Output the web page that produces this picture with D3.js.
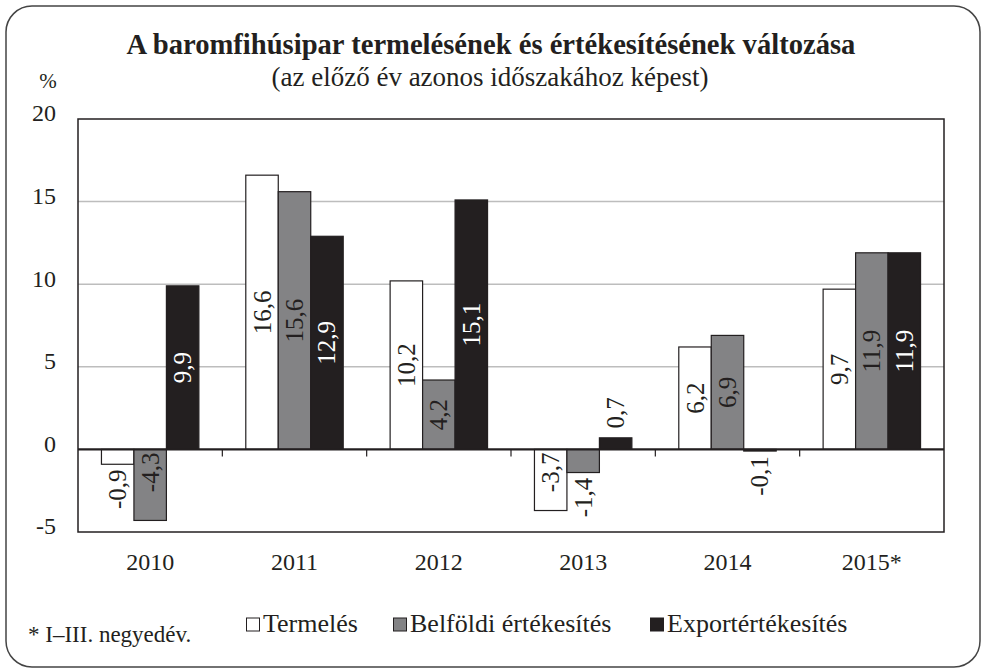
<!DOCTYPE html>
<html>
<head>
<meta charset="utf-8">
<script src="https://cdn.jsdelivr.net/npm/d3@7"></script>
<style>
  body { margin: 0; background: #fff; }
  svg text { font-family: "Liberation Serif", "Times New Roman", serif; fill: #231f20; }
</style>
</head>
<body>
<script>
var years = ['2010', '2011', '2012', '2013', '2014', '2015*']
var seriesNames = ['Termelés', 'Belföldi értékesítés', 'Exportértékesítés']
var termeles = [-0.9, 16.6, 10.2, -3.7, 6.2, 9.7]
var belfoldi = [-4.3, 15.6, 4.2, -1.4, 6.9, 11.9]
var export_ = [9.9, 12.9, 15.1, 0.7, -0.1, 11.9]
var yTicks = [-5, 0, 5, 10, 15, 20]

var colors = {
  fill: ['#ffffff', '#838385', '#231f20'],
  label: ['#231f20', '#231f20', '#ffffff']
}

var W = 986, H = 672
var margin = { left: 78, right: 42, top: 119, bottom: 140 }
var fontSize = 24

var svg = d3.select('body').append('svg')
  .attr('width', W).attr('height', H)
  .attr('font-family', '"Liberation Serif", serif')

// outer frame
svg.append('rect')
  .attr('x', 6).attr('y', 6)
  .attr('width', W - 12).attr('height', H - 11)
  .attr('rx', 26).attr('ry', 26)
  .attr('fill', 'none').attr('stroke', '#444').attr('stroke-width', 1.5)

var x0 = d3.scaleBand().domain(years)
  .range([margin.left, W - margin.right])
  .paddingInner(0.325).paddingOuter(0.1625)
var x1 = d3.scaleBand().domain(d3.range(3)).range([0, x0.bandwidth()])
var y = d3.scaleLinear().domain([-5, 20]).range([H - margin.bottom, margin.top])

var plotL = margin.left, plotR = W - margin.right

// grid
svg.append('g').selectAll('line')
  .data([5, 10, 15]).enter().append('line')
  .attr('x1', plotL).attr('x2', plotR)
  .attr('y1', function (d) { return y(d) }).attr('y2', function (d) { return y(d) })
  .attr('stroke', '#bdbdbd').attr('stroke-width', 1.5)

// y axis labels
svg.append('g').selectAll('text')
  .data(yTicks).enter().append('text')
  .attr('x', 56).attr('y', function (d) { return y(d) })
  .attr('dy', '0.1em')
  .attr('text-anchor', 'end')
  .attr('font-size', fontSize)
  .text(function (d) { return d })

// bars
var rows = years.map(function (yr, i) {
  return { year: yr, values: [termeles[i], belfoldi[i], export_[i]] }
})

var groups = svg.append('g').selectAll('g')
  .data(rows).enter().append('g')
  .attr('transform', function (d) { return 'translate(' + x0(d.year) + ',0)' })

groups.selectAll('rect')
  .data(function (d) { return d.values }).enter().append('rect')
  .attr('x', function (d, i) { return x1(i) })
  .attr('width', x1.bandwidth())
  .attr('y', function (d) { return y(Math.max(0, d)) })
  .attr('height', function (d) { return Math.abs(y(d) - y(0)) })
  .attr('fill', function (d, i) { return colors.fill[i] })
  .attr('stroke', '#231f20').attr('stroke-width', 1.2)

// value labels, rotated
var labelLen = 42
function fmt (v) { return String(v).replace('.', ',') }

groups.selectAll('text')
  .data(function (d) { return d.values }).enter().append('text')
  .attr('font-size', 25)
  .attr('dominant-baseline', 'central')
  .attr('transform', function (d, i) {
    var cx = x1(i) + x1.bandwidth() / 2
    var len = Math.abs(y(d) - y(0))
    var cy
    if (len > labelLen + 6) {
      // fits inside: centred for positive, at the base for negative
      cy = d > 0 ? (y(d) + y(0)) / 2 : y(0) + 2 + labelLen / 2
    } else {
      cy = d > 0 ? y(d) - 4 - labelLen / 2 : y(d) + 4 + labelLen / 2
    }
    return 'translate(' + cx + ',' + cy + ') rotate(-90)'
  })
  .attr('text-anchor', 'middle')
  .style('fill', function (d, i) {
    var len = Math.abs(y(d) - y(0))
    return len > labelLen + 6 ? colors.label[i] : '#231f20'
  })
  .text(fmt)

// plot frame
svg.append('rect')
  .attr('x', plotL).attr('y', y(20))
  .attr('width', plotR - plotL).attr('height', y(-5) - y(20))
  .attr('fill', 'none').attr('stroke', '#231f20').attr('stroke-width', 1.5)

// zero line and category ticks
svg.append('line')
  .attr('x1', plotL).attr('x2', plotR)
  .attr('y1', y(0)).attr('y2', y(0))
  .attr('stroke', '#231f20').attr('stroke-width', 2.2)

var step = x0.step()
svg.append('g').selectAll('line')
  .data(d3.range(1, years.length)).enter().append('line')
  .attr('x1', function (d) { return plotL + d * step })
  .attr('x2', function (d) { return plotL + d * step })
  .attr('y1', y(0)).attr('y2', y(0) + 7)
  .attr('stroke', '#231f20').attr('stroke-width', 1.2)

// x labels
svg.append('g').selectAll('text')
  .data(years).enter().append('text')
  .attr('x', function (d) { return x0(d) + x0.bandwidth() / 2 })
  .attr('y', 570)
  .attr('text-anchor', 'middle')
  .attr('font-size', fontSize)
  .text(function (d) { return d })

// titles
svg.append('text')
  .attr('x', 491).attr('y', 54)
  .attr('text-anchor', 'middle')
  .attr('font-size', 28.6).attr('font-weight', 'bold')
  .text('A baromfihúsipar termelésének és értékesítésének változása')

svg.append('text')
  .attr('x', 490).attr('y', 86)
  .attr('text-anchor', 'middle')
  .attr('font-size', 27)
  .text('(az előző év azonos időszakához képest)')

svg.append('text')
  .attr('x', 48).attr('y', 88)
  .attr('text-anchor', 'middle')
  .attr('font-size', 21)
  .text('%')

// legend
var legendX = [246, 393, 650]
var legend = svg.append('g').selectAll('g')
  .data(seriesNames).enter().append('g')
  .attr('transform', function (d, i) { return 'translate(' + legendX[i] + ',0)' })

legend.append('rect')
  .attr('x', 0.5).attr('y', 618)
  .attr('width', 13).attr('height', 13)
  .attr('fill', function (d, i) { return colors.fill[i] })
  .attr('stroke', '#231f20').attr('stroke-width', 1)

legend.append('text')
  .attr('x', 17).attr('y', 632)
  .attr('font-size', 26)
  .text(function (d) { return d })

svg.append('text')
  .attr('x', 28).attr('y', 642)
  .attr('font-size', 23)
  .text('* I–III. negyedév.')
</script>
</body>
</html>
